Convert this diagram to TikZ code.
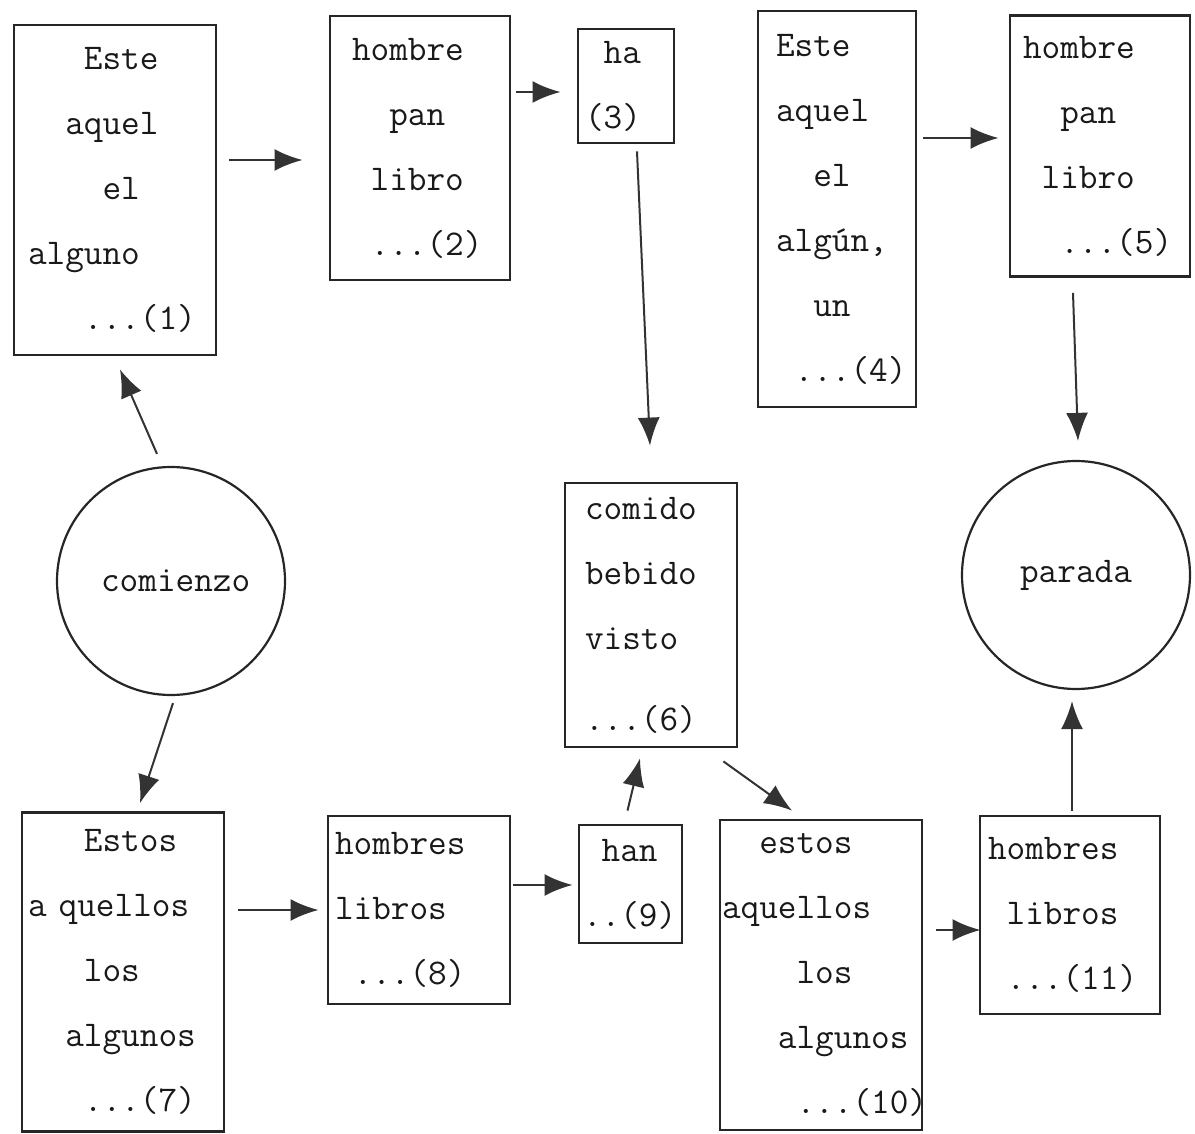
\documentclass[tikz,border=0pt]{standalone}
\usepackage{fontspec}
\usetikzlibrary{arrows.meta, calc}
\newcommand{\chars}[1]{\hspace*{#1\fontcharwd\font`x}}
\tikzset{every node/.append style = {font=\ttfamily\fontsize{36.2}{65}\selectfont, text=black!90}}
\tikzset{box/.style = {draw=black!85, line width=2.8pt, align=left, inner xsep=0pt, inner ysep=0pt}}
\tikzset{ring/.style = {draw=black!85, circle, line width=2.2pt, minimum size=228pt, inner sep=0pt}}
\tikzset{arr/.style = {-{Latex[length=28pt, width=22pt]}, draw=black!80, line width=2.6pt}}

\begin{document}
\begin{tikzpicture}[x=1pt, y=-1pt]
\useasboundingbox (0,0) rectangle (1195,1134);
\node [box, minimum width=202pt, minimum height=330pt, text width=174pt] (b1) at (115,190) {\chars{3}Este\\\chars{2}aquel\\\chars{4}el\\alguno\\\chars{3}...(1)};
\node [box, minimum width=180pt, minimum height=264pt, text width=136pt] (b2) at (420,148) {hombre\\\chars{2}pan\\\chars{1}libro\\\chars{1}...(2)};
\node [box, minimum width=96pt, minimum height=114pt, text width=82pt] (b3) at (626,86) {\chars{1}ha\\(3)};
\node [box, minimum width=158pt, minimum height=396pt, text width=122pt] (b4) at (837,209) {Este\\aquel\\\chars{2}el\\algún,\\\chars{2}un\\\chars{1}...(4)};
\node [box, minimum width=180pt, minimum height=261pt, text width=154pt] (b5) at (1100,146) {hombre\\\chars{2}pan\\\chars{1}libro\\\chars{2}...(5)};
\node [ring] (start) at (171,581) {\chars{0.5}comienzo};
\node [ring] (stop) at (1076,575) {parada};
\node [box, minimum width=172pt, minimum height=264pt, text width=132pt] (b6) at (651,615) {comido\\bebido\\visto\\[16pt]...(6)};
\node [box, minimum width=202pt, minimum height=319pt, text width=190pt] (b7) at (123,972) {\chars{3}Estos\\a quellos\\\chars{3}los\\\chars{2}algunos\\\chars{3}...(7)};
\node [box, minimum width=182pt, minimum height=188pt, text width=168pt] (b8) at (419,910) {hombres\\libros\\\chars{1}...(8)};
\node [box, minimum width=103pt, minimum height=118pt, text width=95pt] (b9) at (630.5,884) {\chars{1}han\\..(9)};
\node [box, minimum width=202pt, minimum height=310pt, text width=198pt] (b10) at (821,975) {\chars{2}estos\\aquellos\\\chars{4}los\\\chars{3}algunos\\\chars{4}...(10)};
\node [box, minimum width=180pt, minimum height=198pt, text width=164pt] (b11) at (1070,915) {hombres\\\chars{1}libros\\\chars{1}...(11)};
\draw [arr] ([xshift=12pt, yshift=30pt]b1.east) -- ([xshift=-26pt, yshift=-12pt]b2.west);
\draw [arr] ([xshift=5pt, yshift=56pt]b2.east) -- ([xshift=-16pt, yshift=-6pt]b3.west);
\draw [arr, line width=2pt] ([xshift=11pt, yshift=-7pt]b3.south) -- ([xshift=-1pt, yshift=36pt]b6.north);
\draw [arr] ([xshift=6pt, yshift=71pt]b4.east) -- ([xshift=-10pt, yshift=8pt]b5.west);
\draw [arr, line width=2pt] ([xshift=-27pt, yshift=-15pt]b5.south) -- ([xshift=2pt, yshift=19pt]stop.north);
\draw [arr, line width=2pt] ([xshift=-14pt, yshift=12pt]start.north) -- ([xshift=5pt, yshift=-13pt]b1.south);
\draw [arr, line width=2pt] ([xshift=2pt, yshift=-7pt]start.south) -- ([xshift=17pt, yshift=8pt]b7.north);
\draw [arr] ([xshift=13pt, yshift=62pt]b7.east) -- ([xshift=-8pt]b8.west);
\draw [arr] ([xshift=2pt, yshift=25pt]b8.east) -- ([xshift=-5pt, yshift=-1pt]b9.west);
\draw [arr, line width=2pt] ([xshift=-3pt, yshift=13pt]b9.north) -- ([xshift=-11pt, yshift=-10pt]b6.south);
\draw [arr, line width=2pt] ([xshift=-15pt, yshift=-13pt]b6.south east) -- ([xshift=-29pt, yshift=8pt]b10.north);
\draw [arr] ([xshift=13pt, yshift=45pt]b10.east) -- ([xshift=2pt, yshift=-15pt]b11.west);
\draw [arr, line width=2pt] ([xshift=2pt, yshift=4pt]b11.north) -- ([xshift=-4pt, yshift=-11pt]stop.south);
\end{tikzpicture}
\end{document}
